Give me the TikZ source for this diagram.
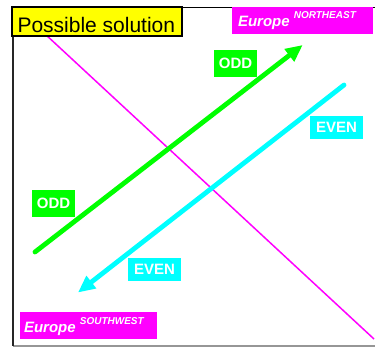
\documentclass[tikz,border=0pt]{standalone}
\usepackage{fontspec}
\setmainfont{Liberation Sans}
\usetikzlibrary{arrows.meta}
\definecolor{pgreen}{RGB}{0,255,0}
\definecolor{pcyan}{RGB}{0,255,255}
\definecolor{pmag}{RGB}{255,0,255}
\definecolor{pyel}{RGB}{255,255,0}
\definecolor{pgray}{RGB}{150,150,150}
\begin{document}
\begin{tikzpicture}[x=1pt,y=-1pt,
  lbl/.style={inner sep=0pt, outer sep=0pt, text=white, anchor=north west,
    font=\fontsize{15}{18}\selectfont\bfseries},
  ebox/.style={fill=pmag, inner sep=0pt, outer sep=0pt, anchor=north west},
  etext/.style={inner sep=0pt, outer sep=0pt, anchor=base west, text=white,
    font=\fontsize{15}{18}\selectfont\bfseries\itshape},
  sup/.style={font=\fontsize{10}{12}\selectfont\bfseries\itshape},
  thickarrow/.style={line width=4.8pt, line cap=round,
    -{Triangle[length=17pt,width=15pt]}},
]
\useasboundingbox (0,0) rectangle (375,347);
% frame
\draw[pgray, line width=1.5pt] (13,346) -- (375,346);
\draw[black, line width=1.5pt] (13,7.5) -- (375,7.5);
\draw[black!85, line width=2pt] (13.3,7) -- (13.3,346);
% magenta diagonal
\coordinate (m1) at (45,34);
\coordinate (m2) at (374,339);
\draw[pmag, line width=1.5pt] (m1) -- (m2);
% arrows
\coordinate (g1) at (35,252);
\coordinate (g2) at (302.7,45);
\draw[pgreen, thickarrow] (g1) -- (g2);
\coordinate (c1) at (344,85);
\coordinate (c2) at (78,292.5);
\draw[pcyan, thickarrow] (c1) -- (c2);
% title box
\node[draw=black, line width=1.8pt, fill=pyel, inner sep=0pt, outer sep=0pt,
  anchor=north west, minimum width=170, minimum height=28.5] (title) at (12,7.3) {};
\node[inner sep=0pt, anchor=base west, font=\fontsize{21}{24}\selectfont]
  (titletext) at (17.3,32.3) {Possible solution};
% Europe boxes
\node[ebox, minimum width=141, minimum height=27] (ne) at (232,7) {};
\node[etext] (netext) at (238,26.7) {Europe \raisebox{8.5pt}{\fontsize{10}{12}\selectfont NORTHEAST}};
\node[ebox, minimum width=137, minimum height=27] (sw) at (20,312) {};
\node[etext] (swtext) at (24,332.7) {Europe \raisebox{8.5pt}{\fontsize{10}{12}\selectfont SOUTHWEST}};
% labels
\node[lbl, fill=pgreen, minimum width=43, minimum height=27] (odd1) at (214,50) {ODD};
\node[lbl, fill=pgreen, minimum width=43, minimum height=27] (odd2) at (32,190) {ODD};
\node[lbl, fill=pcyan, minimum width=53, minimum height=23] (even1) at (310,116) {EVEN};
\node[lbl, fill=pcyan, minimum width=53, minimum height=23] (even2) at (128,258) {EVEN};
\end{tikzpicture}
\end{document}
